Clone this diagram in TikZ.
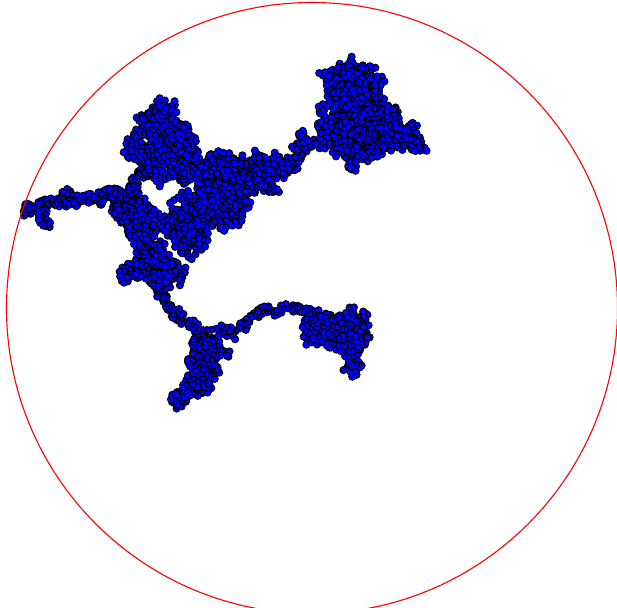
\documentclass[tikz,border=0pt]{standalone}
\tikzset{
  walkdot/.style={fill=blue,draw=black,line width=0.85pt},
  hull/.style={draw=red,line width=1.1pt}
}
% target x / target y / steps / pull towards target / step length
\newcommand\walkpath{%
  333/338/650/0.032/5,
  300/310/30/0.25/3, 280/310/20/0.25/3, 262/316/20/0.25/3,
  240/326/25/0.25/3, 222/338/20/0.25/3,
  205/345/60/0.1/5, 200/395/120/0.1/4, 200/365/150/0.07/5,
  205/340/60/0.1/4, 190/322/30/0.2/3, 170/312/30/0.2/3, 160/295/30/0.2/3,
  150/265/40/0.2/3, 150/262/420/0.037/5,
  140/228/30/0.2/3, 135/203/350/0.043/5,
  110/195/25/0.25/3, 90/200/20/0.25/3, 70/195/20/0.25/3, 58/195/12/0.25/3,
  45/210/15/0.25/3, 48/232/15/0.3/3, 40/210/15/0.3/3, 22/210/20/0.25/3,
  45/205/20/0.25/3, 80/198/30/0.25/3, 125/195/30/0.25/3,
  145/175/30/0.2/3, 165/145/30/0.2/4, 168/145/480/0.03/5,
  195/165/40/0.15/4, 228/178/420/0.035/5,
  210/205/40/0.15/4, 200/228/450/0.03/5,
  170/225/150/0.06/5, 215/200/60/0.1/4, 230/185/200/0.05/5,
  265/178/280/0.08/5, 290/160/140/0.1/5, 310/140/60/0.15/4,
  345/122/40/0.2/4, 365/120/1500/0.016/5, 410/135/280/0.06/5,
  355/68/40/0.2/3, 350/115/450/0.03/5}

\begin{document}
\begin{tikzpicture}[x=1pt,y=-1pt]
  \useasboundingbox (0,0) rectangle (617,607);
  \clip (0,0) rectangle (617,607);

  % random walk of dots
  \pgfmathsetseed{4711}
  \xdef\wx{333}\xdef\wy{338}\xdef\tx{333}\xdef\ty{338}
  \begin{scope}[walkdot]
  \foreach \nx/\ny/\nn/\na/\ns in \walkpath {
    \foreach \k in {1,...,\nn} {
      \pgfmathsetmacro\gx{\tx+(\nx-\tx)*(\k/\nn)}
      \pgfmathsetmacro\gy{\ty+(\ny-\ty)*(\k/\nn)}
      \pgfmathsetmacro\wang{360*rnd}
      \pgfmathsetmacro\px{\wx+\na*(\gx-\wx)+\ns*cos(\wang)}
      \pgfmathsetmacro\py{\wy+\na*(\gy-\wy)+\ns*sin(\wang)}
      \xdef\wx{\px}\xdef\wy{\py}
      \filldraw (\wx,\wy) circle[radius=3.6pt];
    }
    \xdef\tx{\nx}\xdef\ty{\ny}
  }
  \end{scope}

  % bounding circle
  \draw[hull] (312,308) circle[radius=305.5pt];
\end{tikzpicture}
\end{document}
